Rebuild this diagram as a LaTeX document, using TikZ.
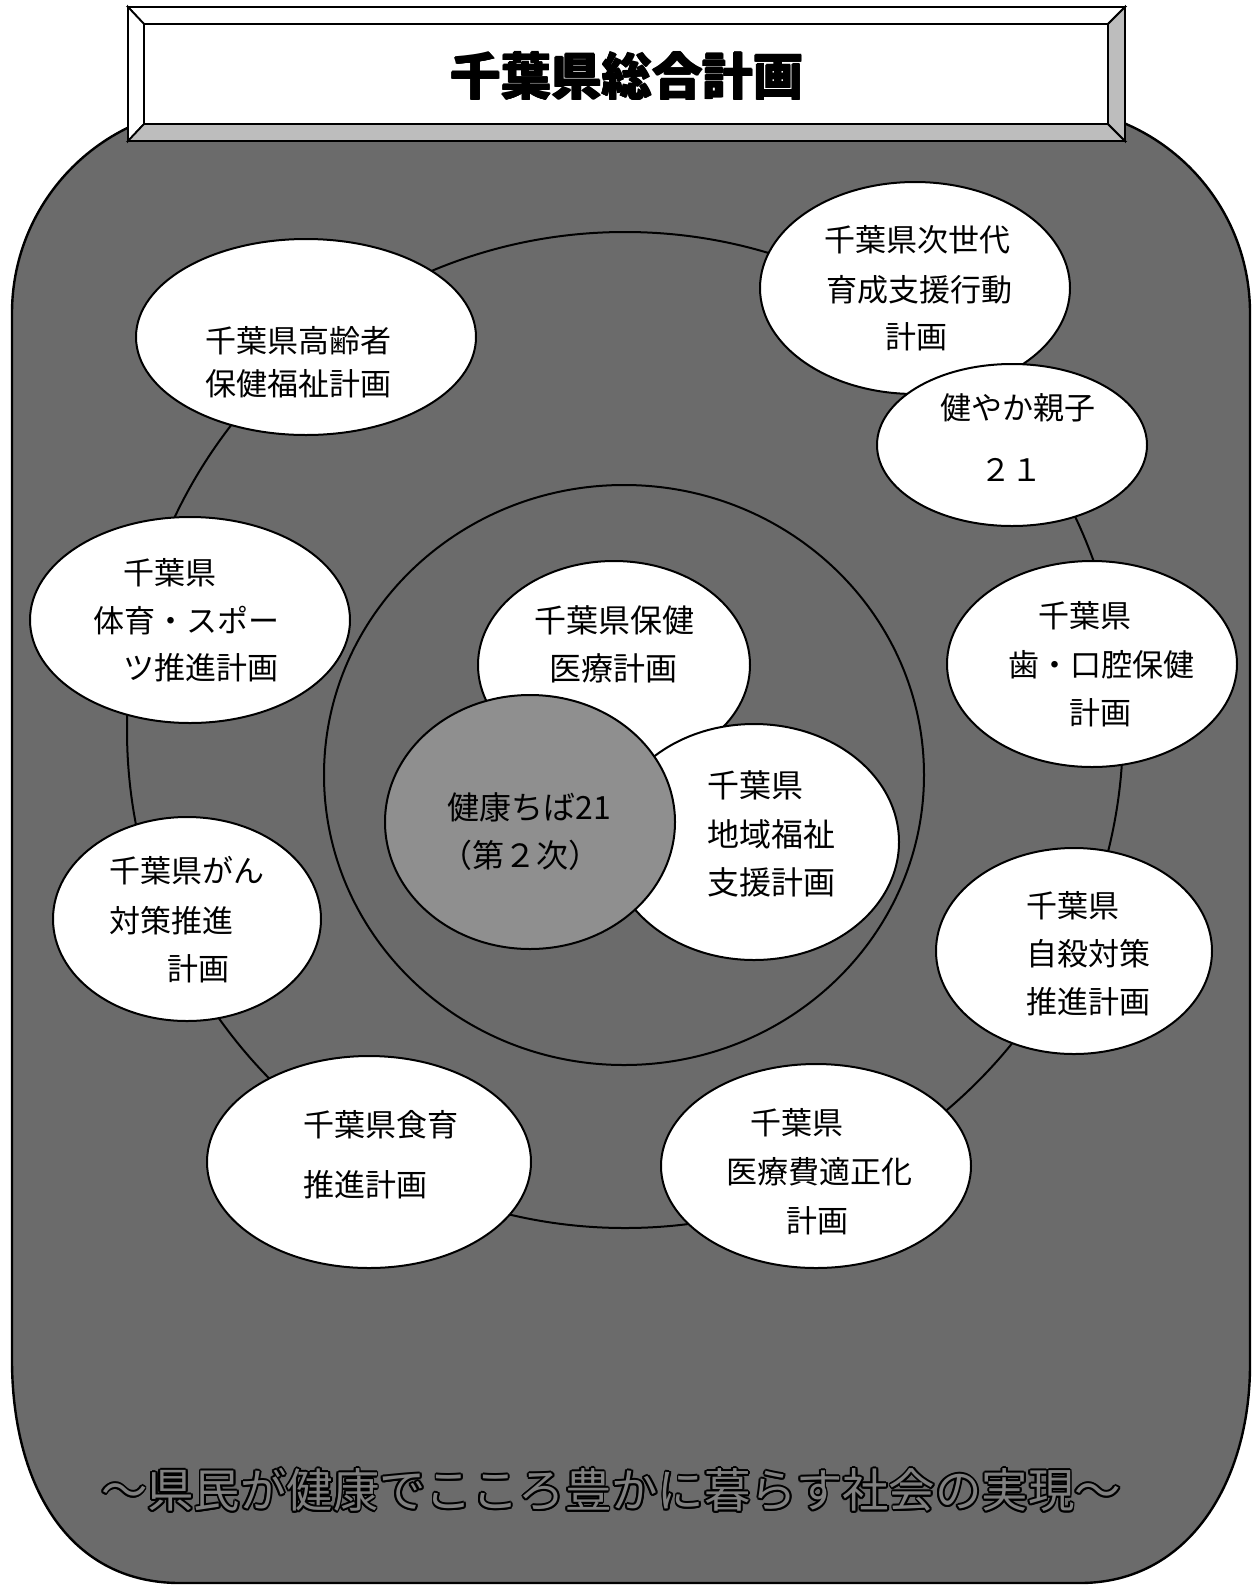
\documentclass[tikz,border=0pt]{standalone}
\usepackage{fontspec}
\setmainfont{Noto Sans CJK JP}
\usetikzlibrary{shapes.geometric,calc}
\definecolor{bgray}{gray}{0.42}
\definecolor{mgray}{gray}{0.56}
\definecolor{lgray}{gray}{0.74}
\definecolor{tgray}{gray}{0.50}
\begin{document}
\begin{tikzpicture}[x=0.5pt,y=-0.5pt,
  ell/.style={draw=black,line width=1pt,fill=white,ellipse,inner sep=0pt},
  lbl/.style={inner sep=0pt,anchor=west,font=\fontsize{15.5pt}{18pt}\selectfont},
  clbl/.style={inner sep=0pt,anchor=center,font=\fontsize{15.5pt}{18pt}\selectfont},
  bev/.style={draw=black,line width=0.9pt,line join=miter}]
\useasboundingbox (0,0) rectangle (1256,1585);
\fill[white] (0,0) rectangle (1256,1585);
% background shape
\draw[fill=bgray,line width=1.2pt]
  (12,1360) -- (12,313) arc[start angle=180,end angle=270,radius=206]
  -- (1044,107) arc[start angle=270,end angle=360,radius=206]
  -- (1250,1365) .. controls (1250,1480) and (1190,1583) .. (1080,1583)
  -- (180,1583) .. controls (65,1583) and (12,1480) .. (12,1360) -- cycle;
% title box
\draw[bev,fill=white] (128,7) -- (1125,7) -- (1108,24) -- (144,24) -- cycle;
\draw[bev,fill=white] (128,7) -- (144,24) -- (144,124) -- (128,141) -- cycle;
\draw[bev,fill=lgray] (128,141) -- (144,124) -- (1108,124) -- (1125,141) -- cycle;
\draw[bev,fill=lgray] (1125,7) -- (1108,24) -- (1108,124) -- (1125,141) -- cycle;
\draw[bev,fill=white] (144,24) rectangle (1108,124);
\foreach \dx/\dy [count=\i] in {0.8/0,-0.8/0,0/0.8,0/-0.8}
  \node[inner sep=0pt,font=\fontsize{25.2pt}{30pt}\selectfont\bfseries] (tt\i) at (627+\dx,76+\dy) {千葉県総合計画};
\node[inner sep=0pt,font=\fontsize{25.2pt}{30pt}\selectfont\bfseries] (title) at (627,76) {千葉県総合計画};
% rings
\draw[line width=1pt] (625,730) circle[radius=498];
\draw[line width=1pt] (624,775) ellipse[x radius=300,y radius=290];
% central ellipses
\node[ell,minimum width=136pt,minimum height=104pt] (hoken) at (614,665) {};
\node[ell,minimum width=145pt,minimum height=118pt] (chiiki) at (754,842) {};
\node[ell,fill=mgray,minimum width=145pt,minimum height=127pt] (kenko) at (530,822) {};
% outer ellipses
\node[ell,minimum width=170pt,minimum height=98pt] (korei) at (306,337) {};
\node[ell,minimum width=155pt,minimum height=106pt] (jisedai) at (915,288) {};
\node[ell,minimum width=135pt,minimum height=81pt] (sukoyaka) at (1012,445) {};
\node[ell,minimum width=160pt,minimum height=103pt] (taiiku) at (190,620) {};
\node[ell,minimum width=145pt,minimum height=103pt] (shika) at (1092,664) {};
\node[ell,minimum width=134pt,minimum height=102pt] (gan) at (187,919) {};
\node[ell,minimum width=138pt,minimum height=103pt] (jisatsu) at (1074,951) {};
\node[ell,minimum width=162pt,minimum height=106pt] (shokuiku) at (369,1162) {};
\node[ell,minimum width=155pt,minimum height=102pt] (iryohi) at (816,1166) {};
% labels outer
\node[lbl] (t1a) at (205,341) {千葉県高齢者};
\node[lbl] (t1b) at (205,384) {保健福祉計画};
\node[lbl] (t2a) at (824,240) {千葉県次世代};
\node[lbl] (t2b) at (826,290) {育成支援行動};
\node[lbl] (t2c) at (885,337) {計画};
\node[lbl] (t3a) at (940,408) {健やか親子};
\node[clbl] (t3b) at (1011,470) {２１};
\node[lbl] (t4a) at (123,573) {千葉県};
\node[lbl] (t4b) at (93,621) {体育・スポー};
\node[lbl] (t4c) at (123,668) {ツ推進計画};
\node[lbl] (t5a) at (1038,616) {千葉県};
\node[lbl] (t5b) at (1008,665) {歯・口腔保健};
\node[lbl] (t5c) at (1069,713) {計画};
\node[lbl] (t6a) at (109,871) {千葉県がん};
\node[lbl] (t6b) at (109,921) {対策推進};
\node[lbl] (t6c) at (167,969) {計画};
\node[lbl] (t7a) at (1026,906) {千葉県};
\node[lbl] (t7b) at (1026,954) {自殺対策};
\node[lbl] (t7c) at (1026,1002) {推進計画};
\node[lbl] (t8a) at (303,1125) {千葉県食育};
\node[lbl] (t8b) at (303,1185) {推進計画};
\node[lbl] (t9a) at (750,1123) {千葉県};
\node[lbl] (t9b) at (726,1172) {医療費適正化};
\node[lbl] (t9c) at (786,1221) {計画};
% labels central
\node[lbl,font=\fontsize{16pt}{18pt}\selectfont] (c1a) at (534,620) {千葉県保健};
\node[lbl,font=\fontsize{16pt}{18pt}\selectfont] (c1b) at (549,668) {医療計画};
\node[clbl,font=\fontsize{16pt}{18pt}\selectfont] (c2a) at (529,807) {健康ちば21};
\node[clbl,font=\fontsize{16pt}{18pt}\selectfont] (c2b) at (520,855) {（第２次）};
\node[lbl,font=\fontsize{16pt}{18pt}\selectfont] (c3a) at (707,785) {千葉県};
\node[lbl,font=\fontsize{16pt}{18pt}\selectfont] (c3b) at (707,834) {地域福祉};
\node[lbl,font=\fontsize{16pt}{18pt}\selectfont] (c3c) at (707,882) {支援計画};
% motto with outline
\foreach \a [count=\i] in {0,30,...,330}
  \node[inner sep=0pt,text=black,font=\fontsize{23.2pt}{26pt}\selectfont] (mo\i) at ($(611,1490)+(\a:1.8)$) {～県民が健康でこころ豊かに暮らす社会の実現～};
\node[inner sep=0pt,text=tgray,font=\fontsize{23.2pt}{26pt}\selectfont] (motto) at (611,1490) {～県民が健康でこころ豊かに暮らす社会の実現～};
\end{tikzpicture}
\end{document}
